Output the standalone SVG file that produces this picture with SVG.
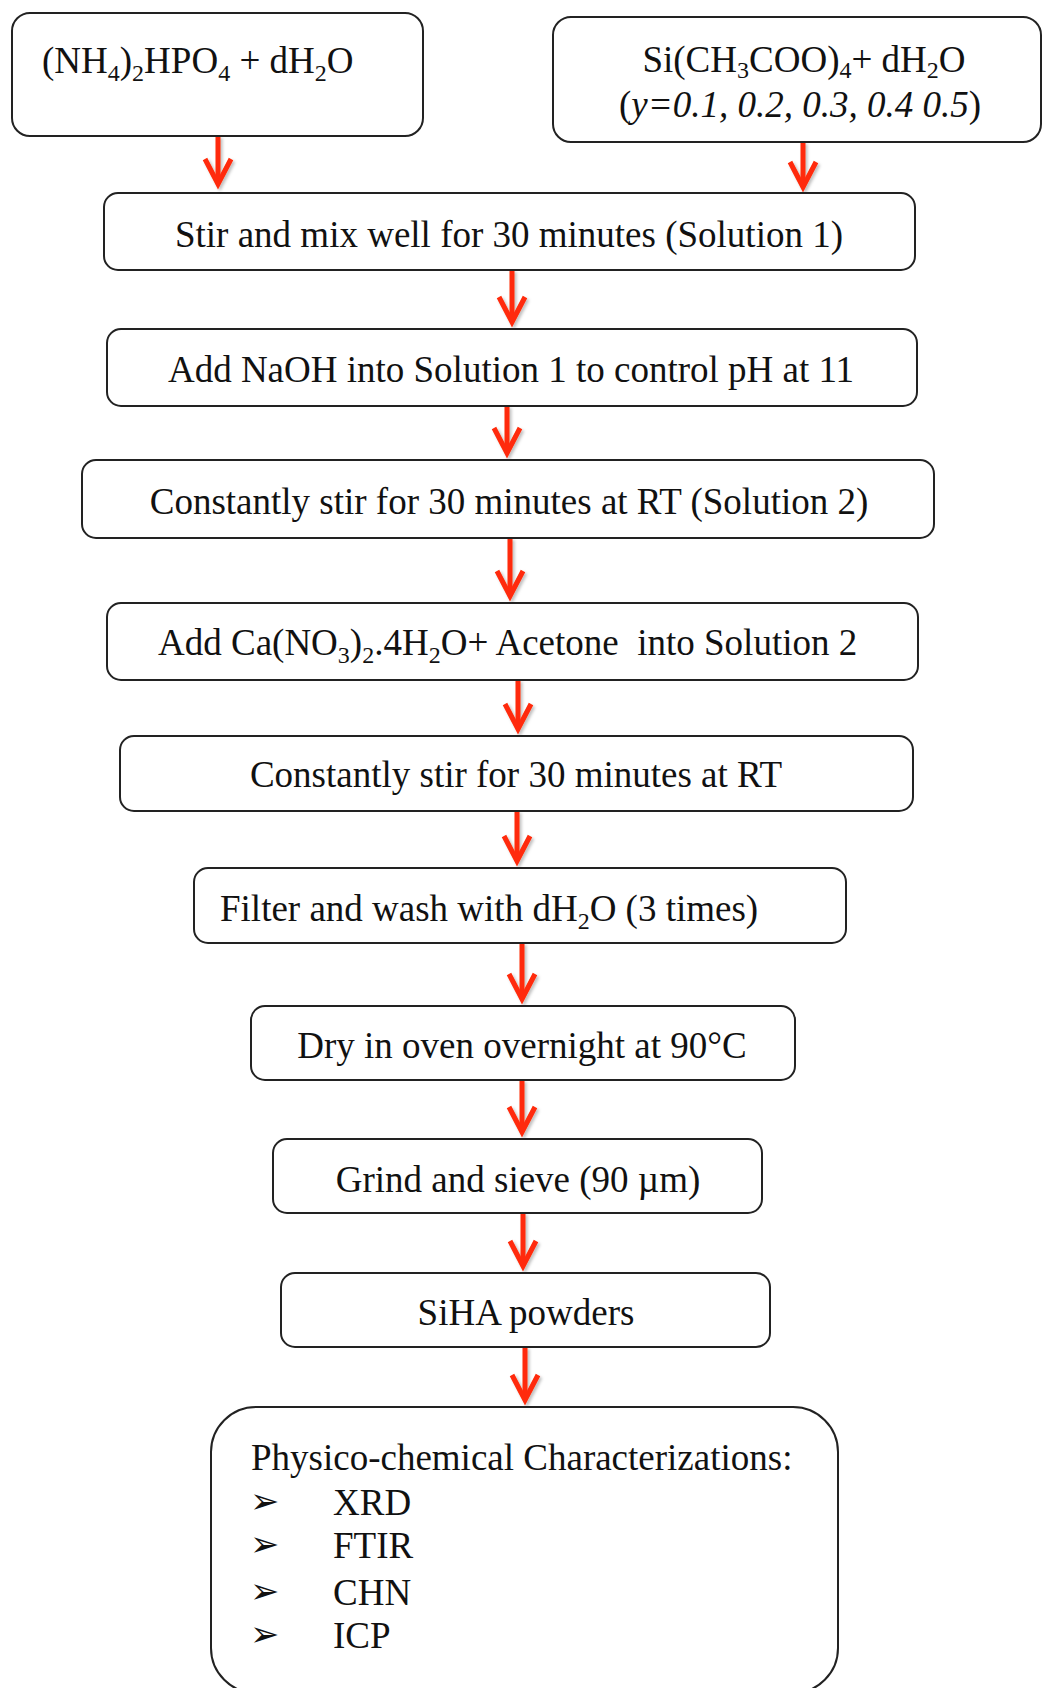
<svg xmlns="http://www.w3.org/2000/svg" width="1043" height="1688" viewBox="0 0 1043 1688">
  <style>
    .box { fill: #ffffff; stroke: #222222; stroke-width: 2; }
    .t { font-family: "Liberation Serif", "Times New Roman", serif; font-size: 37px; fill: #111111; white-space: pre; }
    .c { text-anchor: middle; }
    .sub { font-size: 24px; }
    .it { font-style: italic; }
    .bul { font-family: "DejaVu Sans", sans-serif; font-size: 35px; fill: #111111; }
    .arr { fill: none; stroke: #ff2a08; stroke-width: 5; }
  </style>
  <defs>
    <marker id="head" markerUnits="userSpaceOnUse" markerWidth="60" markerHeight="60" refX="0" refY="0" orient="auto" overflow="visible">
      <path d="M-25,-13 L0,0 L-25,13" fill="none" stroke="#ff2a08" stroke-width="5" stroke-linejoin="miter"/>
    </marker>
    <filter id="shadow" x="-50%" y="-20%" width="200%" height="140%">
      <feDropShadow dx="2" dy="2" stdDeviation="1.5" flood-color="#000000" flood-opacity="0.25"/>
    </filter>
  </defs>

  <rect width="1043" height="1688" fill="#ffffff"/>

  <g id="connectors" filter="url(#shadow)">
    <path class="arr" d="M218,136 V184" marker-end="url(#head)"/>
    <path class="arr" d="M803,142 V187" marker-end="url(#head)"/>
    <path class="arr" d="M512,270 V322" marker-end="url(#head)"/>
    <path class="arr" d="M507,406 V453" marker-end="url(#head)"/>
    <path class="arr" d="M510,538 V596" marker-end="url(#head)"/>
    <path class="arr" d="M518,680 V729" marker-end="url(#head)"/>
    <path class="arr" d="M517,811 V861" marker-end="url(#head)"/>
    <path class="arr" d="M522,943 V999" marker-end="url(#head)"/>
    <path class="arr" d="M522,1080 V1132" marker-end="url(#head)"/>
    <path class="arr" d="M523,1213 V1266" marker-end="url(#head)"/>
    <path class="arr" d="M525,1347 V1400" marker-end="url(#head)"/>
  </g>

  <g id="node-reagent1">
    <rect class="box" x="12" y="13" width="411" height="123" rx="18"/>
    <text class="t" x="42" y="73">(NH<tspan class="sub" dy="8">4</tspan><tspan dy="-8">)</tspan><tspan class="sub" dy="8">2</tspan><tspan dy="-8">HPO</tspan><tspan class="sub" dy="8">4</tspan><tspan dy="-8"> + dH</tspan><tspan class="sub" dy="8">2</tspan><tspan dy="-8">O</tspan></text>
  </g>

  <g id="node-reagent2">
    <rect class="box" x="553" y="17" width="488" height="125" rx="18"/>
    <text class="t c" x="804" y="72">Si(CH<tspan class="sub" dy="6">3</tspan><tspan dy="-6">COO)</tspan><tspan class="sub" dy="6">4</tspan><tspan dy="-6">+ dH</tspan><tspan class="sub" dy="6">2</tspan><tspan dy="-6">O</tspan></text>
    <text class="t c" x="800" y="117">(<tspan class="it">y=0.1, 0.2, 0.3, 0.4 0.5</tspan>)</text>
  </g>

  <g id="node-step1">
    <rect class="box" x="104" y="193" width="811" height="77" rx="14"/>
    <text class="t c" x="509" y="247">Stir and mix well for 30 minutes (Solution 1)</text>
  </g>

  <g id="node-step2">
    <rect class="box" x="107" y="329" width="810" height="77" rx="14"/>
    <text class="t c" x="511" y="382">Add NaOH into Solution 1 to control pH at 11</text>
  </g>

  <g id="node-step3">
    <rect class="box" x="82" y="460" width="852" height="78" rx="14"/>
    <text class="t c" x="509" y="514">Constantly stir for 30 minutes at RT (Solution 2)</text>
  </g>

  <g id="node-step4">
    <rect class="box" x="107" y="603" width="811" height="77" rx="14"/>
    <text class="t" x="158" y="655">Add Ca(NO<tspan class="sub" dy="8">3</tspan><tspan dy="-8">)</tspan><tspan class="sub" dy="8">2</tspan><tspan dy="-8">.4H</tspan><tspan class="sub" dy="8">2</tspan><tspan dy="-8">O+ Acetone  into Solution 2</tspan></text>
  </g>

  <g id="node-step5">
    <rect class="box" x="120" y="736" width="793" height="75" rx="14"/>
    <text class="t c" x="516" y="787">Constantly stir for 30 minutes at RT</text>
  </g>

  <g id="node-step6">
    <rect class="box" x="194" y="868" width="652" height="75" rx="14"/>
    <text class="t" x="220" y="921">Filter and wash with dH<tspan class="sub" dy="8">2</tspan><tspan dy="-8">O (3 times)</tspan></text>
  </g>

  <g id="node-step7">
    <rect class="box" x="251" y="1006" width="544" height="74" rx="14"/>
    <text class="t c" x="522" y="1058">Dry in oven overnight at 90°C</text>
  </g>

  <g id="node-step8">
    <rect class="box" x="273" y="1139" width="489" height="74" rx="14"/>
    <text class="t c" x="518" y="1192">Grind and sieve (90 µm)</text>
  </g>

  <g id="node-step9">
    <rect class="box" x="281" y="1273" width="489" height="74" rx="14"/>
    <text class="t c" x="526" y="1325">SiHA powders</text>
  </g>

  <g id="node-characterization">
    <rect class="box" x="211" y="1407" width="627" height="286" rx="45"/>
    <text class="t" x="251" y="1470">Physico-chemical Characterizations:</text>
    <text class="bul" x="250" y="1513">➢</text>
    <text class="t" x="333" y="1515">XRD</text>
    <text class="bul" x="250" y="1556">➢</text>
    <text class="t" x="333" y="1558">FTIR</text>
    <text class="bul" x="250" y="1603">➢</text>
    <text class="t" x="333" y="1605">CHN</text>
    <text class="bul" x="250" y="1646">➢</text>
    <text class="t" x="333" y="1648">ICP</text>
  </g>
</svg>
